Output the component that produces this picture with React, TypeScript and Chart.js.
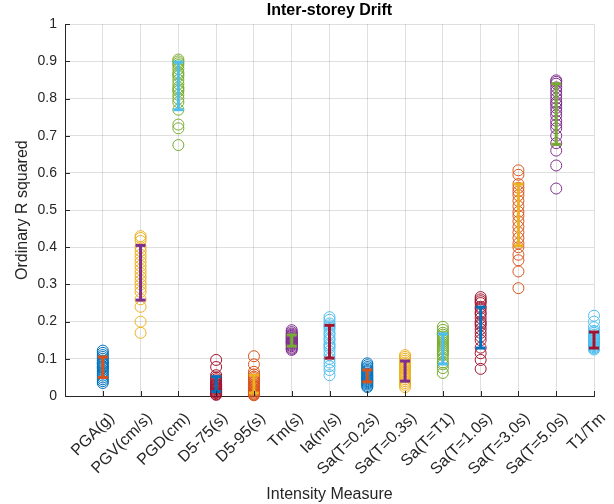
import React, { useEffect, useRef } from 'react';
import { Chart, registerables } from 'chart.js';

Chart.register(...registerables);

const categories = ['PGA(g)', 'PGV(cm/s)', 'PGD(cm)', 'D5-75(s)', 'D5-95(s)', 'Tm(s)', 'Ia(m/s)', 'Sa(T=0.2s)', 'Sa(T=0.3s)', 'Sa(T=T1)', 'Sa(T=1.0s)', 'Sa(T=3.0s)', 'Sa(T=5.0s)', 'T1/Tm'];

const pgaValues = [0.122, 0.116, 0.11, 0.105, 0.1, 0.095, 0.09, 0.088, 0.085, 0.08, 0.078, 0.075, 0.07, 0.065, 0.06, 0.055, 0.05, 0.045, 0.04, 0.035];
const pgvValues = [0.43, 0.425, 0.417, 0.4, 0.39, 0.38, 0.37, 0.36, 0.35, 0.34, 0.33, 0.32, 0.31, 0.3, 0.29, 0.28, 0.26, 0.24, 0.2, 0.17];
const pgdValues = [0.905, 0.9, 0.895, 0.89, 0.88, 0.87, 0.865, 0.86, 0.85, 0.84, 0.83, 0.825, 0.82, 0.81, 0.8, 0.79, 0.77, 0.73, 0.72, 0.675];
const d575Values = [0.097, 0.078, 0.056, 0.05, 0.045, 0.04, 0.035, 0.032, 0.03, 0.028, 0.025, 0.022, 0.02, 0.018, 0.015, 0.012, 0.01, 0.008, 0.005, 0.003];
const d595Values = [0.107, 0.085, 0.065, 0.058, 0.052, 0.048, 0.043, 0.04, 0.036, 0.032, 0.028, 0.025, 0.022, 0.018, 0.015, 0.012, 0.009, 0.006, 0.004, 0.002];
const tmValues = [0.177, 0.172, 0.168, 0.165, 0.162, 0.16, 0.157, 0.155, 0.153, 0.15, 0.148, 0.146, 0.144, 0.142, 0.14, 0.137, 0.134, 0.13, 0.127, 0.124];
const iaValues = [0.212, 0.205, 0.195, 0.19, 0.185, 0.18, 0.17, 0.165, 0.155, 0.15, 0.14, 0.135, 0.13, 0.12, 0.11, 0.1, 0.09, 0.08, 0.07, 0.056];
const sa02Values = [0.088, 0.083, 0.078, 0.074, 0.07, 0.067, 0.064, 0.06, 0.057, 0.054, 0.051, 0.048, 0.045, 0.042, 0.04, 0.037, 0.034, 0.031, 0.027, 0.024];
const sa03Values = [0.11, 0.105, 0.1, 0.095, 0.09, 0.086, 0.082, 0.078, 0.074, 0.07, 0.066, 0.062, 0.058, 0.054, 0.05, 0.045, 0.04, 0.035, 0.03, 0.024];
const saT1Values = [0.186, 0.178, 0.17, 0.165, 0.16, 0.155, 0.15, 0.145, 0.14, 0.135, 0.13, 0.125, 0.12, 0.115, 0.11, 0.1, 0.09, 0.085, 0.075, 0.062];
const sa10Values = [0.266, 0.26, 0.255, 0.25, 0.24, 0.235, 0.225, 0.22, 0.21, 0.2, 0.195, 0.19, 0.18, 0.17, 0.16, 0.15, 0.13, 0.115, 0.097, 0.073];
const sa30Values = [0.607, 0.595, 0.57, 0.56, 0.55, 0.54, 0.525, 0.51, 0.495, 0.485, 0.47, 0.455, 0.44, 0.425, 0.41, 0.4, 0.38, 0.365, 0.335, 0.29];
const sa50Values = [0.849, 0.845, 0.84, 0.83, 0.82, 0.81, 0.8, 0.79, 0.785, 0.775, 0.765, 0.755, 0.74, 0.73, 0.72, 0.7, 0.68, 0.66, 0.62, 0.558];
const t1TmValues = [0.216, 0.2, 0.185, 0.175, 0.17, 0.165, 0.16, 0.158, 0.155, 0.152, 0.15, 0.148, 0.145, 0.142, 0.14, 0.137, 0.134, 0.131, 0.128, 0.125];

const errLow = [0.05, 0.258, 0.77, 0.012, 0.008, 0.134, 0.102, 0.038, 0.04, 0.086, 0.129, 0.404, 0.677, 0.129];
const errHigh = [0.105, 0.405, 0.898, 0.052, 0.056, 0.164, 0.19, 0.07, 0.094, 0.167, 0.239, 0.57, 0.84, 0.172];

const seriesValues = [pgaValues, pgvValues, pgdValues, d575Values, d595Values, tmValues, iaValues, sa02Values, sa03Values, saT1Values, sa10Values, sa30Values, sa50Values, t1TmValues];

const palette = ['#0072BD', '#D95319', '#EDB120', '#7E2F8E', '#77AC30', '#4DBEEE', '#A2142F'];

const FONT = "'Liberation Sans', Arial, Helvetica, sans-serif";
const AXIS = '#262626';

const innerTicks = {
  id: 'innerTicks',
  afterDraw(chart: any) {
    const { ctx, chartArea } = chart;
    const xs = chart.scales.x;
    const ys = chart.scales.y;
    ctx.save();
    ctx.strokeStyle = AXIS;
    ctx.lineWidth = 1;
    ctx.beginPath();
    xs.ticks.forEach((t: any) => {
      const px = Math.round(xs.getPixelForValue(t.value)) + 0.5;
      ctx.moveTo(px, chartArea.bottom);
      ctx.lineTo(px, chartArea.bottom - 5);
    });
    ys.ticks.forEach((t: any) => {
      const py = Math.round(ys.getPixelForValue(t.value)) + 0.5;
      ctx.moveTo(chartArea.left, py);
      ctx.lineTo(chartArea.left + 5, py);
    });
    ctx.stroke();
    ctx.restore();
  },
};

export default function App() {
  const canvasRef = useRef<HTMLCanvasElement | null>(null);

  useEffect(() => {
    if (!canvasRef.current) return;
    const datasets: any[] = [];
    seriesValues.forEach((vals, i) => {
      const sc = palette[(2 * i) % 7];
      const ec = palette[(2 * i + 1) % 7];
      datasets.push({
        type: 'scatter',
        data: vals.map((v) => ({ x: i + 1, y: v })),
        borderColor: sc,
        backgroundColor: 'rgba(0,0,0,0)',
        pointBackgroundColor: 'rgba(0,0,0,0)',
        pointBorderColor: sc,
        pointRadius: 5.5,
        pointBorderWidth: 1,
        showLine: false,
        clip: false,
        order: 1000 - 2 * i,
      });
      datasets.push({
        type: 'line',
        data: [
          { x: i + 1, y: errLow[i] },
          { x: i + 1, y: errHigh[i] },
        ],
        borderColor: ec,
        borderWidth: 3,
        pointStyle: 'line',
        pointRadius: 5,
        pointBorderWidth: 3,
        pointBorderColor: ec,
        pointBackgroundColor: ec,
        fill: false,
        clip: false,
        order: 1000 - 2 * i - 1,
      });
    });

    const chart = new Chart(canvasRef.current, {
      type: 'scatter',
      data: { datasets },
      plugins: [innerTicks],
      options: {
        animation: false,
        responsive: true,
        maintainAspectRatio: false,
        events: [],
        layout: { padding: { left: 0, right: 20, top: 0, bottom: 0 } },
        plugins: {
          legend: { display: false },
          tooltip: { enabled: false },
          title: {
            display: true,
            text: 'Inter-storey Drift',
            fullSize: false,
            color: '#000000',
            font: { family: FONT, size: 16, weight: 'bold' },
            padding: { top: 1, bottom: 4 },
          },
        },
        scales: {
          x: {
            type: 'linear',
            min: 0,
            max: 14,
            afterFit: (scale: any) => {
              scale.height = 108;
              scale.paddingLeft = 0;
              scale.paddingRight = 0;
            },
            border: { display: true, color: AXIS, width: 1 },
            grid: { color: 'rgba(38,38,38,0.15)', drawTicks: false, lineWidth: 1 },
            ticks: {
              stepSize: 1,
              autoSkip: false,
              maxRotation: 45,
              minRotation: 45,
              padding: 13,
              labelOffset: 9,
              color: AXIS,
              font: { family: FONT, size: 16 },
              callback: (v: any) => categories[Number(v) - 1] ?? '',
            },
            title: {
              display: true,
              text: 'Intensity Measure',
              color: AXIS,
              font: { family: FONT, size: 16 },
              padding: { top: 0, bottom: 0 },
            },
          },
          y: {
            type: 'linear',
            min: 0,
            max: 1,
            afterFit: (scale: any) => {
              scale.width = 65;
              scale.paddingTop = 0;
              scale.paddingBottom = 0;
            },
            border: { display: true, color: AXIS, width: 1 },
            grid: { color: 'rgba(38,38,38,0.15)', drawTicks: false, lineWidth: 1 },
            ticks: {
              stepSize: 0.1,
              padding: 8,
              color: AXIS,
              font: { family: FONT, size: 14 },
              callback: (v: any) => String(Math.round(Number(v) * 10) / 10),
            },
            title: {
              display: true,
              text: 'Ordinary R squared',
              color: AXIS,
              font: { family: FONT, size: 16 },
              padding: { top: 13, bottom: 0 },
            },
          },
        },
      },
    } as any);
    return () => chart.destroy();
  }, []);

  return (
    <div style={{ position: 'fixed', left: 0, top: 0, width: 614, height: 504, background: '#ffffff' }}>
      <canvas ref={canvasRef} />
    </div>
  );
}
